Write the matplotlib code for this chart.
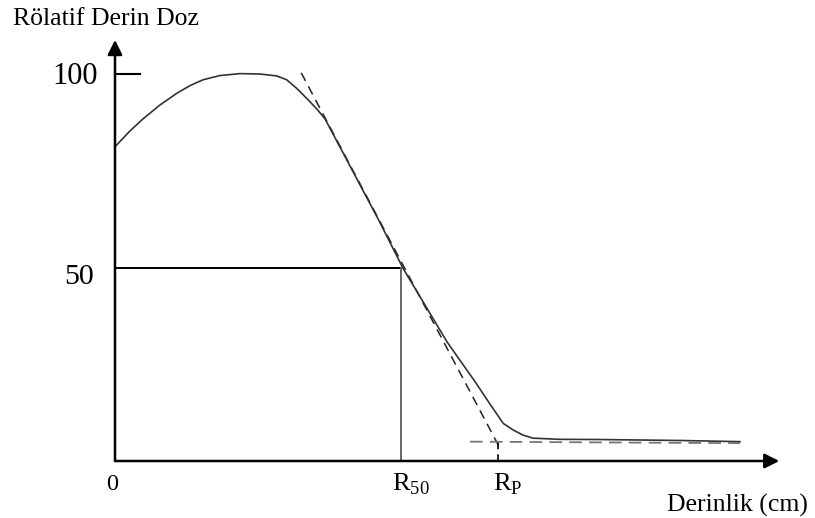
import matplotlib
matplotlib.use("Agg")
import matplotlib.pyplot as plt

# Depth-dose curve of an electron beam (depth in cm, dose in %)
depth = [0.000, 0.226, 0.421, 0.677, 0.928, 1.128, 1.323, 1.579, 1.880,
         2.180, 2.432, 2.582, 2.732, 2.883, 3.033, 3.158, 3.489, 3.985,
         4.331, 4.992, 5.414, 5.639, 5.839, 5.989, 6.135, 6.286, 6.692,
         7.293, 8.496, 9.398]
dose = [81.2, 85.3, 88.4, 92.0, 95.0, 97.0, 98.5, 99.6, 100.1,
        100.0, 99.5, 98.5, 96.3, 93.7, 91.0, 88.4, 77.7, 61.6,
        49.8, 30.8, 20.5, 14.7, 9.7, 8.0, 6.7, 5.9, 5.6,
        5.55, 5.3, 5.0]

# Tangent at the steep fall-off and the bremsstrahlung tail line
tangent_depth = [2.800, 5.780]
tangent_dose = [100.3, 3.6]
tail_depth = [5.338, 9.398]
tail_dose = [5.0, 4.6]

R50 = 4.30
RP = 5.752
RP_DOSE = 5.0
X_MAX = 9.99
Y_MAX = 108.8

plt.rcParams["font.family"] = ["Liberation Serif", "DejaVu Serif"]
plt.rcParams["mathtext.fontset"] = "custom"
plt.rcParams["mathtext.rm"] = "Liberation Serif"

fig = plt.figure(figsize=(8.15, 5.18), dpi=100)
ax = fig.add_axes([0, 0, 1, 1])
# 66.5 px per cm horizontally, 3.87 px per % vertically, origin at (115, 461)
ax.set_xlim(-115 / 66.5, (815 - 115) / 66.5)
ax.set_ylim(-(518 - 461) / 3.87, 461 / 3.87)
ax.axis("off")

# axes with arrow heads
ax.annotate("", xy=(X_MAX, 0), xytext=(0, 0),
            arrowprops=dict(arrowstyle="-|>", color="black", lw=1.8,
                            mutation_scale=22, shrinkA=0, shrinkB=0))
ax.annotate("", xy=(0, Y_MAX), xytext=(0, 0),
            arrowprops=dict(arrowstyle="-|>", color="black", lw=1.8,
                            mutation_scale=22, shrinkA=0, shrinkB=0))
ax.plot([0, 0.376], [100, 100], color="black", lw=1.5)

# R50 construction lines
ax.plot([0, R50], [50, 50], color="black", lw=1.4)
ax.plot([R50, R50], [0, 50], color="#666666", lw=1.4)

# tangent and tail
ax.plot(tangent_depth, tangent_dose, color="#222222", lw=1.1, ls=(0, (6, 4)))
ax.plot(tail_depth, tail_dose, color="#777777", lw=1.3, ls=(0, (7, 4)))
ax.plot([RP, RP], [0, RP_DOSE], color="black", lw=1.2, ls=(0, (4, 3)))

# the depth dose curve
ax.plot(depth, dose, color="#333333", lw=1.2, solid_joinstyle="round")

def px(x, y):
    return x / 815, 1 - y / 518

fig.text(*px(13, 19), "Rölatif Derin Doz", fontsize=18.5, ha="left", va="center")
fig.text(*px(98, 76), "100", fontsize=22, ha="right", va="center")
fig.text(*px(94, 277), "50", fontsize=21.5, ha="right", va="center")
fig.text(*px(112, 484), "0", fontsize=17.5, ha="center", va="center")
fig.text(*px(392, 484), r"$\mathrm{R}_{50}$", fontsize=19, ha="left", va="center")
fig.text(*px(493, 484), r"$\mathrm{R}_{\mathrm{P}}$", fontsize=19, ha="left", va="center")
fig.text(*px(808, 505), "Derinlik (cm)", fontsize=18.5, ha="right", va="center")

fig.savefig("out.png", dpi=100, facecolor="white")
